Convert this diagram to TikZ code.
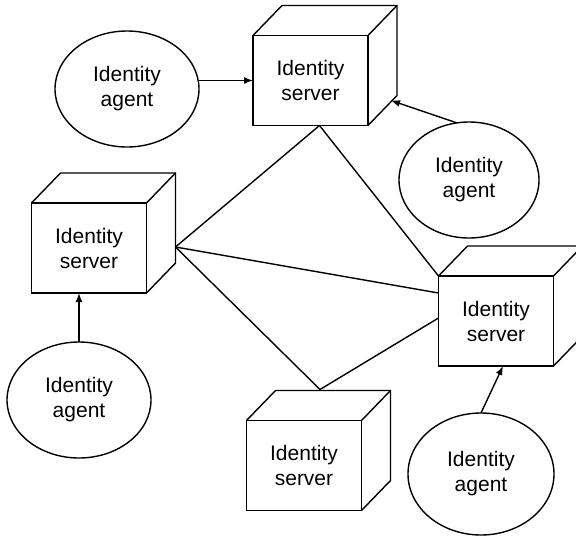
\documentclass[tikz,border=0pt]{standalone}
\usepackage{fontspec}
\setmainfont{Liberation Sans}
\usetikzlibrary{shapes.geometric,calc,arrows.meta}
\tikzset{
  lw/.style={line width=1.4pt},
  cube/.style={draw, lw, rectangle, minimum width=115pt, minimum height=90pt,
    inner sep=0pt, outer sep=0pt, align=center, font=\fontsize{21}{25}\selectfont},
  agent/.style={draw, lw, ellipse, minimum width=144pt, minimum height=116pt,
    inner sep=0pt, outer sep=0pt, align=center, font=\fontsize{21}{25}\selectfont},
  link/.style={lw},
  arr/.style={lw, -{Latex[length=9pt,width=7pt]}}
}
\newcommand\cubeback[1]{%
  \draw[lw, line join=miter] (#1.north west) -- ++(29,-30) -| ($(#1.south east)+(29,-30)$) -- (#1.south east);
  \draw[lw] (#1.north east) -- ++(29,-30);}
\begin{document}
\begin{tikzpicture}[x=1pt,y=-1pt]
\useasboundingbox (0,0) rectangle (576,536);
% servers
\node[cube] (ts) at (310.5,80.5) {Identity\\server};
\node[cube] (ls) at (89,248) {Identity\\server};
\node[cube] (rs) at (496,321) {Identity\\server};
\node[cube] (bs) at (304,465.5) {Identity\\server};
\cubeback{ts}
\cubeback{ls}
\cubeback{rs}
\cubeback{bs}
% agents
\node[agent] (a1) at (127,89) {Identity\\agent};
\node[agent, minimum width=140pt] (a2) at (469,180) {Identity\\agent};
\node[agent] (a3) at (79,400) {Identity\\agent};
\node[agent, minimum width=146pt, minimum height=122pt] (a4) at (481,474) {Identity\\agent};
% connection points
\coordinate (tsb) at ($(ts.south)+(9,0)$);
\coordinate (lsr) at ($(ls.east)+(29,-1)$);
\coordinate (rs1) at ($(rs.north west)+(0,17)$);
\coordinate (rs2) at ($(rs.west)+(0,-3)$);
\coordinate (bst) at ($(bs.north)+(16,-31)$);
\coordinate (tsr) at ($(ts.south east)+(23,-25)$);
% links
\draw[link] (tsb) -- (lsr);
\draw[link] (tsb) -- (rs.north west);
\draw[link] (lsr) -- (rs1);
\draw[link] (lsr) -- (bst);
\draw[link] (bst) -- (rs2);
% arrows
\draw[arr] (ts.west -| a1.east) -- (ts.west);
\draw[arr] (a2.102) -- (tsr);
\draw[arr] (a3.north) -- (a3.north |- ls.south);
\draw[arr] (a4.north) -- ($(rs.south)+(7,0)$);
\end{tikzpicture}
\end{document}
